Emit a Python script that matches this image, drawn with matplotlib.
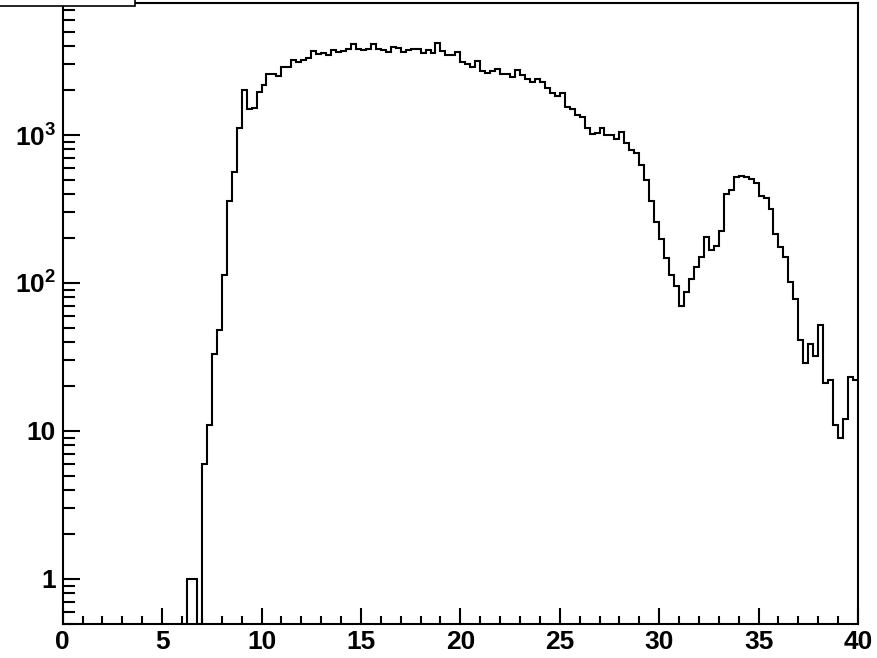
import numpy as np
import matplotlib
matplotlib.use("Agg")
import matplotlib.pyplot as plt
from matplotlib.ticker import LogLocator, FuncFormatter, MultipleLocator, NullFormatter
from matplotlib.patches import Rectangle

plt.rcParams['font.family'] = ['Liberation Sans', 'DejaVu Sans']
plt.rcParams['font.weight'] = 'bold'
plt.rcParams['mathtext.fontset'] = 'custom'
plt.rcParams['mathtext.rm'] = 'Liberation Sans:bold'
plt.rcParams['mathtext.bf'] = 'Liberation Sans:bold'
plt.rcParams['mathtext.it'] = 'Liberation Sans:bold'

# histogram: 160 bins from 0 to 40
x_min, x_max, n_bins = 0.0, 40.0, 160
counts = [0] * 25 + [1, 1, 0] + [
    6, 11, 33, 48, 114, 359, 561, 1120, 2015, 1490,             # 28-37
    1530, 1944, 2177, 2594, 2570, 2505, 2893, 2893, 3210, 3097,  # 38-47
    3210, 3296, 3710, 3520, 3562, 3452, 3750, 3630, 3710, 3790,  # 48-57
    4115, 3800, 3750, 3805, 4115, 3805, 3750, 3650, 3950, 3850,  # 58-67
    3630, 3750, 3790, 3805, 3595, 3750, 3600, 4160, 3710, 3470,  # 68-77
    3470, 3615, 3100, 3000, 2893, 3175, 2718, 2635, 2718, 2790,  # 78-87
    2583, 2583, 2454, 2749, 2541, 2390, 2291, 2378, 2291, 2067,  # 88-97
    1913, 1845, 1913, 1540, 1493, 1367, 1332, 1112, 1017, 1038,  # 98-107
    1122, 1000, 1000, 937, 1045, 880, 794, 761, 625, 498,        # 108-117
    356, 257, 198, 148, 113, 95, 70, 87, 107, 128,               # 118-127
    151, 206, 166, 178, 223, 399, 426, 519, 532, 524,            # 128-137
    504, 473, 388, 378, 316, 215, 175, 151, 101, 78,             # 138-147
    41, 29, 39, 32, 52, 21, 22, 11, 9, 12,                       # 148-157
    23, 22,                                                      # 158-159
]
y_min, y_max = 0.5, 7800.0
x_major = 5
x_minor = 1

counts = np.array(counts, dtype=float)
edges = np.linspace(x_min, x_max, n_bins + 1)

W, H = 878, 658
fig = plt.figure(figsize=(W / 100, H / 100), dpi=100)
left, right, bottom, top = 62.7, 858.0, 623.5, 3.0
ax = fig.add_axes([left / W, (H - bottom) / H, (right - left) / W, (bottom - top) / H])

plot_vals = np.where(counts > 0, counts, 1e-3)
ax.stairs(plot_vals, edges, color='black', linewidth=1.5, baseline=None)

ax.set_yscale('log')
ax.set_xlim(x_min, x_max)
ax.set_ylim(y_min, y_max)

ax.xaxis.set_major_locator(MultipleLocator(x_major))
ax.xaxis.set_minor_locator(MultipleLocator(x_minor))
ax.yaxis.set_major_locator(LogLocator(base=10, numticks=10))
ax.yaxis.set_minor_locator(LogLocator(base=10, subs=np.arange(2, 10), numticks=20))
ax.yaxis.set_minor_formatter(NullFormatter())


def yfmt(v, pos):
    e = int(round(np.log10(v)))
    if e == 0:
        return '1'
    if e == 1:
        return '10'
    return r'$10^{%d}$' % e


ax.yaxis.set_major_formatter(FuncFormatter(yfmt))

for s in ax.spines.values():
    s.set_linewidth(1.5)

ax.tick_params(axis='both', which='both', direction='in', top=False, right=False,
               width=1.5, labelsize=19)
ax.tick_params(axis='x', which='major', length=11.5, pad=5)
ax.tick_params(axis='x', which='minor', length=5.8)
ax.tick_params(axis='y', which='major', length=12, pad=5)
ax.tick_params(axis='y', which='minor', length=8.5)
for lab in ax.get_xticklabels() + ax.get_yticklabels():
    lab.set_fontweight('bold')

# partially visible title box at the top-left corner
fig.add_artist(Rectangle((-0.01, (H - 6) / H), 135 / W + 0.01, 0.03,
                         transform=fig.transFigure, facecolor='white',
                         edgecolor='black', linewidth=1.2, zorder=10, clip_on=False))

fig.savefig('out.png', dpi=100)
